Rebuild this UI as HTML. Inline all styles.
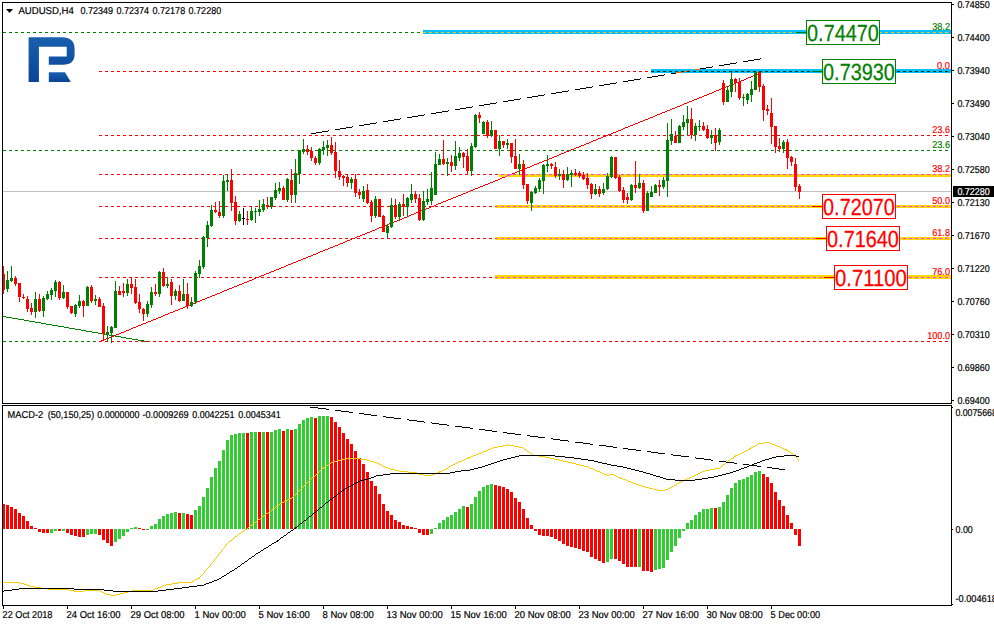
<!DOCTYPE html><html><head><meta charset="utf-8"><title>AUDUSD H4</title><style>html,body{margin:0;padding:0;background:#fff;overflow:hidden}svg{display:block}</style></head><body><svg width="994" height="626" viewBox="0 0 994 626" shape-rendering="crispEdges" font-family="Liberation Sans, sans-serif">
<rect x="0" y="0" width="994" height="626" fill="#FFFFFF"/>
<rect x="3" y="191" width="948" height="1" fill="#C0C0C0"/>
<line x1="99" y1="71.5" x2="949" y2="71.5" stroke="#FF0000" stroke-width="1" stroke-dasharray="3 3" stroke-dashoffset="0"/>
<line x1="99" y1="135.5" x2="949" y2="135.5" stroke="#FF0000" stroke-width="1" stroke-dasharray="3 3" stroke-dashoffset="0"/>
<line x1="99" y1="174.5" x2="949" y2="174.5" stroke="#FF0000" stroke-width="1" stroke-dasharray="3 3" stroke-dashoffset="0"/>
<line x1="99" y1="206.5" x2="949" y2="206.5" stroke="#FF0000" stroke-width="1" stroke-dasharray="3 3" stroke-dashoffset="0"/>
<line x1="99" y1="238.5" x2="949" y2="238.5" stroke="#FF0000" stroke-width="1" stroke-dasharray="3 3" stroke-dashoffset="0"/>
<line x1="99" y1="277.5" x2="949" y2="277.5" stroke="#FF0000" stroke-width="1" stroke-dasharray="3 3" stroke-dashoffset="0"/>
<line x1="99" y1="341.5" x2="949" y2="341.5" stroke="#FF0000" stroke-width="1" stroke-dasharray="3 3" stroke-dashoffset="0"/>
<line x1="3" y1="32.5" x2="949" y2="32.5" stroke="#008000" stroke-width="1" stroke-dasharray="3 3" stroke-dashoffset="0"/>
<line x1="3" y1="150.5" x2="949" y2="150.5" stroke="#008000" stroke-width="1" stroke-dasharray="3 3" stroke-dashoffset="0"/>
<line x1="3" y1="341.5" x2="99" y2="341.5" stroke="#008000" stroke-width="1" stroke-dasharray="3 3" stroke-dashoffset="0"/>
<rect x="499" y="174" width="452" height="3" fill="#FFD700"/>
<line x1="499" y1="174.5" x2="950" y2="174.5" stroke="#FF40FF" stroke-width="1" stroke-dasharray="3 3" stroke-dashoffset="4"/>
<rect x="495" y="205" width="456" height="3" fill="#FFD700"/>
<line x1="495" y1="206.5" x2="950" y2="206.5" stroke="#FF40FF" stroke-width="1" stroke-dasharray="3 3" stroke-dashoffset="0"/>
<rect x="495" y="237" width="456" height="3" fill="#FFD700"/>
<line x1="495" y1="238.5" x2="950" y2="238.5" stroke="#FF40FF" stroke-width="1" stroke-dasharray="3 3" stroke-dashoffset="0"/>
<rect x="495" y="275" width="456" height="4" fill="#FFD700"/>
<line x1="495" y1="277.5" x2="950" y2="277.5" stroke="#FF40FF" stroke-width="1" stroke-dasharray="3 3" stroke-dashoffset="0"/>
<rect x="423" y="30" width="528" height="4" fill="#00BFFF"/>
<line x1="423" y1="32.5" x2="950" y2="32.5" stroke="#FFC020" stroke-width="1" stroke-dasharray="3 3" stroke-dashoffset="0"/>
<rect x="651" y="69" width="300" height="4" fill="#00BFFF"/>
<line x1="651" y1="71.5" x2="950" y2="71.5" stroke="#0A3A0A" stroke-width="1" stroke-dasharray="3 3" stroke-dashoffset="0"/>
<path fill="#008000" d="M2 316h4v1h-4zM6 317h6v1h-6zM12 318h6v1h-6zM18 319h6v1h-6zM24 320h5v1h-5zM29 321h6v1h-6zM35 322h6v1h-6zM41 323h5v1h-5zM46 324h6v1h-6zM52 325h6v1h-6zM58 326h6v1h-6zM64 327h5v1h-5zM69 328h6v1h-6zM75 329h6v1h-6zM81 330h5v1h-5zM86 331h6v1h-6zM92 332h6v1h-6zM98 333h6v1h-6zM104 334h5v1h-5zM109 335h6v1h-6zM115 336h6v1h-6zM121 337h5v1h-5zM126 338h6v1h-6zM132 339h6v1h-6zM138 340h6v1h-6zM144 341h3v1h-3z"/>
<path fill="#FF0000" d="M756 74h2v1h-2zM753 75h3v1h-3zM751 76h2v1h-2zM748 77h3v1h-3zM746 78h2v1h-2zM744 79h2v1h-2zM741 80h3v1h-3zM739 81h2v1h-2zM736 82h3v1h-3zM734 83h2v1h-2zM731 84h3v1h-3zM729 85h2v1h-2zM726 86h3v1h-3zM724 87h2v1h-2zM721 88h3v1h-3zM719 89h2v1h-2zM716 90h3v1h-3zM714 91h2v1h-2zM712 92h2v1h-2zM709 93h3v1h-3zM707 94h2v1h-2zM704 95h3v1h-3zM702 96h2v1h-2zM699 97h3v1h-3zM697 98h2v1h-2zM694 99h3v1h-3zM692 100h2v1h-2zM689 101h3v1h-3zM687 102h2v1h-2zM684 103h3v1h-3zM682 104h2v1h-2zM680 105h2v1h-2zM677 106h3v1h-3zM675 107h2v1h-2zM672 108h3v1h-3zM670 109h2v1h-2zM667 110h3v1h-3zM665 111h2v1h-2zM662 112h3v1h-3zM660 113h2v1h-2zM657 114h3v1h-3zM655 115h2v1h-2zM653 116h2v1h-2zM650 117h3v1h-3zM648 118h2v1h-2zM645 119h3v1h-3zM643 120h2v1h-2zM640 121h3v1h-3zM638 122h2v1h-2zM635 123h3v1h-3zM633 124h2v1h-2zM630 125h3v1h-3zM628 126h2v1h-2zM625 127h3v1h-3zM623 128h2v1h-2zM621 129h2v1h-2zM618 130h3v1h-3zM616 131h2v1h-2zM613 132h3v1h-3zM611 133h2v1h-2zM608 134h3v1h-3zM606 135h2v1h-2zM603 136h3v1h-3zM601 137h2v1h-2zM598 138h3v1h-3zM596 139h2v1h-2zM593 140h3v1h-3zM591 141h2v1h-2zM589 142h2v1h-2zM586 143h3v1h-3zM584 144h2v1h-2zM581 145h3v1h-3zM579 146h2v1h-2zM576 147h3v1h-3zM574 148h2v1h-2zM571 149h3v1h-3zM569 150h2v1h-2zM566 151h3v1h-3zM564 152h2v1h-2zM561 153h3v1h-3zM559 154h2v1h-2zM557 155h2v1h-2zM554 156h3v1h-3zM552 157h2v1h-2zM549 158h3v1h-3zM547 159h2v1h-2zM544 160h3v1h-3zM542 161h2v1h-2zM539 162h3v1h-3zM537 163h2v1h-2zM534 164h3v1h-3zM532 165h2v1h-2zM530 166h2v1h-2zM527 167h3v1h-3zM525 168h2v1h-2zM522 169h3v1h-3zM520 170h2v1h-2zM517 171h3v1h-3zM515 172h2v1h-2zM512 173h3v1h-3zM502 177h3v1h-3zM500 178h2v1h-2zM498 179h2v1h-2zM495 180h3v1h-3zM493 181h2v1h-2zM490 182h3v1h-3zM488 183h2v1h-2zM485 184h3v1h-3zM483 185h2v1h-2zM480 186h3v1h-3zM478 187h2v1h-2zM475 188h3v1h-3zM473 189h2v1h-2zM470 190h3v1h-3zM468 191h2v1h-2zM466 192h2v1h-2zM463 193h3v1h-3zM461 194h2v1h-2zM458 195h3v1h-3zM456 196h2v1h-2zM453 197h3v1h-3zM451 198h2v1h-2zM448 199h3v1h-3zM446 200h2v1h-2zM443 201h3v1h-3zM441 202h2v1h-2zM438 203h3v1h-3zM436 204h2v1h-2zM434 205h2v1h-2zM431 206h3v1h-3zM429 207h2v1h-2zM426 208h3v1h-3zM424 209h2v1h-2zM421 210h3v1h-3zM419 211h2v1h-2zM416 212h3v1h-3zM414 213h2v1h-2zM411 214h3v1h-3zM409 215h2v1h-2zM407 216h2v1h-2zM404 217h3v1h-3zM402 218h2v1h-2zM399 219h3v1h-3zM397 220h2v1h-2zM394 221h3v1h-3zM392 222h2v1h-2zM389 223h3v1h-3zM387 224h2v1h-2zM384 225h3v1h-3zM382 226h2v1h-2zM379 227h3v1h-3zM377 228h2v1h-2zM375 229h2v1h-2zM372 230h3v1h-3zM370 231h2v1h-2zM367 232h3v1h-3zM365 233h2v1h-2zM362 234h3v1h-3zM360 235h2v1h-2zM357 236h3v1h-3zM355 237h2v1h-2zM352 238h3v1h-3zM350 239h2v1h-2zM347 240h3v1h-3zM345 241h2v1h-2zM343 242h2v1h-2zM340 243h3v1h-3zM338 244h2v1h-2zM335 245h3v1h-3zM333 246h2v1h-2zM330 247h3v1h-3zM328 248h2v1h-2zM325 249h3v1h-3zM323 250h2v1h-2zM320 251h3v1h-3zM318 252h2v1h-2zM316 253h2v1h-2zM313 254h3v1h-3zM311 255h2v1h-2zM308 256h3v1h-3zM306 257h2v1h-2zM303 258h3v1h-3zM301 259h2v1h-2zM298 260h3v1h-3zM296 261h2v1h-2zM293 262h3v1h-3zM291 263h2v1h-2zM288 264h3v1h-3zM286 265h2v1h-2zM284 266h2v1h-2zM281 267h3v1h-3zM279 268h2v1h-2zM276 269h3v1h-3zM274 270h2v1h-2zM271 271h3v1h-3zM269 272h2v1h-2zM266 273h3v1h-3zM264 274h2v1h-2zM261 275h3v1h-3zM259 276h2v1h-2zM256 277h3v1h-3zM254 278h2v1h-2zM252 279h2v1h-2zM249 280h3v1h-3zM247 281h2v1h-2zM244 282h3v1h-3zM242 283h2v1h-2zM239 284h3v1h-3zM237 285h2v1h-2zM234 286h3v1h-3zM232 287h2v1h-2zM229 288h3v1h-3zM227 289h2v1h-2zM224 290h3v1h-3zM222 291h2v1h-2zM220 292h2v1h-2zM217 293h3v1h-3zM215 294h2v1h-2zM212 295h3v1h-3zM210 296h2v1h-2zM207 297h3v1h-3zM205 298h2v1h-2zM202 299h3v1h-3zM200 300h2v1h-2zM197 301h3v1h-3zM195 302h2v1h-2zM193 303h2v1h-2zM190 304h3v1h-3zM188 305h2v1h-2zM185 306h3v1h-3zM183 307h2v1h-2zM180 308h3v1h-3zM178 309h2v1h-2zM175 310h3v1h-3zM173 311h2v1h-2zM170 312h3v1h-3zM168 313h2v1h-2zM165 314h3v1h-3zM163 315h2v1h-2zM161 316h2v1h-2zM158 317h3v1h-3zM156 318h2v1h-2zM153 319h3v1h-3zM151 320h2v1h-2zM148 321h3v1h-3zM146 322h2v1h-2zM143 323h3v1h-3zM141 324h2v1h-2zM138 325h3v1h-3zM136 326h2v1h-2zM133 327h3v1h-3zM131 328h2v1h-2zM129 329h2v1h-2zM126 330h3v1h-3zM124 331h2v1h-2zM121 332h3v1h-3zM119 333h2v1h-2zM116 334h3v1h-3zM114 335h2v1h-2zM111 336h3v1h-3zM109 337h2v1h-2zM106 338h3v1h-3zM104 339h2v1h-2zM101 340h3v1h-3zM100 341h1v1h-1z"/>
<path fill="#FF40FF" d="M510 174h2v1h-2zM507 175h3v1h-3zM505 176h2v1h-2z"/>
<path fill="#000" d="M760 58h1v1h-1zM754 59h6v1h-6zM748 60h6v1h-6zM743 61h5v1h-5zM736 62h1v1h-1zM730 63h6v1h-6zM724 64h6v1h-6zM719 65h5v1h-5zM712 66h1v1h-1zM706 67h6v1h-6zM700 68h6v1h-6zM671 73h5v1h-5zM664 74h1v1h-1zM658 75h6v1h-6zM652 76h6v1h-6zM647 77h5v1h-5zM640 78h1v1h-1zM634 79h6v1h-6zM628 80h6v1h-6zM623 81h5v1h-5zM616 82h1v1h-1zM610 83h6v1h-6zM604 84h6v1h-6zM599 85h5v1h-5zM592 86h1v1h-1zM586 87h6v1h-6zM580 88h6v1h-6zM575 89h5v1h-5zM568 90h1v1h-1zM562 91h6v1h-6zM556 92h6v1h-6zM551 93h5v1h-5zM544 94h1v1h-1zM538 95h6v1h-6zM532 96h6v1h-6zM527 97h5v1h-5zM520 98h1v1h-1zM514 99h6v1h-6zM508 100h6v1h-6zM503 101h5v1h-5zM496 102h1v1h-1zM490 103h6v1h-6zM484 104h6v1h-6zM479 105h5v1h-5zM472 106h1v1h-1zM466 107h6v1h-6zM460 108h6v1h-6zM455 109h5v1h-5zM448 110h1v1h-1zM442 111h6v1h-6zM436 112h6v1h-6zM431 113h5v1h-5zM424 114h1v1h-1zM418 115h6v1h-6zM412 116h6v1h-6zM407 117h5v1h-5zM400 118h1v1h-1zM394 119h6v1h-6zM388 120h6v1h-6zM383 121h5v1h-5zM376 122h1v1h-1zM370 123h6v1h-6zM364 124h6v1h-6zM359 125h5v1h-5zM352 126h1v1h-1zM346 127h6v1h-6zM340 128h6v1h-6zM335 129h5v1h-5zM328 130h1v1h-1zM322 131h6v1h-6zM316 132h6v1h-6zM311 133h5v1h-5z"/>
<path fill="#FF5A00" d="M695 69h5v1h-5zM688 70h1v1h-1zM682 71h6v1h-6zM676 72h6v1h-6z"/>
<line x1="651" y1="71.5" x2="950" y2="71.5" stroke="#0A3A0A" stroke-width="1" stroke-dasharray="3 3" stroke-dashoffset="0"/>
<rect x="3" y="266" width="1" height="28" fill="#FF0000"/>
<rect x="2" y="274" width="3" height="16" fill="#FF0000"/>
<rect x="7" y="271" width="1" height="21" fill="#008000"/>
<rect x="6" y="280" width="3" height="9" fill="#008000"/>
<rect x="11" y="266" width="1" height="16" fill="#008000"/>
<rect x="10" y="278" width="3" height="3" fill="#008000"/>
<rect x="15" y="276" width="1" height="10" fill="#FF0000"/>
<rect x="14" y="278" width="3" height="6" fill="#FF0000"/>
<rect x="19" y="283" width="1" height="19" fill="#FF0000"/>
<rect x="18" y="283" width="3" height="14" fill="#FF0000"/>
<rect x="23" y="294" width="1" height="5" fill="#FF0000"/>
<rect x="22" y="297" width="3" height="1" fill="#FF0000"/>
<rect x="27" y="296" width="1" height="16" fill="#FF0000"/>
<rect x="26" y="299" width="3" height="10" fill="#FF0000"/>
<rect x="31" y="303" width="1" height="12" fill="#FF0000"/>
<rect x="30" y="308" width="3" height="4" fill="#FF0000"/>
<rect x="35" y="292" width="1" height="26" fill="#008000"/>
<rect x="34" y="299" width="3" height="13" fill="#008000"/>
<rect x="39" y="294" width="1" height="18" fill="#FF0000"/>
<rect x="38" y="299" width="3" height="12" fill="#FF0000"/>
<rect x="43" y="296" width="1" height="21" fill="#008000"/>
<rect x="42" y="298" width="3" height="13" fill="#008000"/>
<rect x="47" y="291" width="1" height="9" fill="#008000"/>
<rect x="46" y="294" width="3" height="5" fill="#008000"/>
<rect x="51" y="288" width="1" height="12" fill="#008000"/>
<rect x="50" y="290" width="3" height="5" fill="#008000"/>
<rect x="55" y="280" width="1" height="17" fill="#008000"/>
<rect x="54" y="282" width="3" height="9" fill="#008000"/>
<rect x="59" y="281" width="1" height="19" fill="#FF0000"/>
<rect x="58" y="282" width="3" height="16" fill="#FF0000"/>
<rect x="63" y="285" width="1" height="14" fill="#008000"/>
<rect x="62" y="292" width="3" height="6" fill="#008000"/>
<rect x="67" y="292" width="1" height="17" fill="#FF0000"/>
<rect x="66" y="292" width="3" height="15" fill="#FF0000"/>
<rect x="71" y="306" width="1" height="8" fill="#FF0000"/>
<rect x="70" y="306" width="3" height="7" fill="#FF0000"/>
<rect x="75" y="304" width="1" height="13" fill="#008000"/>
<rect x="74" y="305" width="3" height="9" fill="#008000"/>
<rect x="79" y="295" width="1" height="13" fill="#008000"/>
<rect x="78" y="301" width="3" height="5" fill="#008000"/>
<rect x="83" y="300" width="1" height="17" fill="#FF0000"/>
<rect x="82" y="301" width="3" height="5" fill="#FF0000"/>
<rect x="87" y="286" width="1" height="20" fill="#008000"/>
<rect x="86" y="287" width="3" height="19" fill="#008000"/>
<rect x="91" y="285" width="1" height="18" fill="#FF0000"/>
<rect x="90" y="287" width="3" height="14" fill="#FF0000"/>
<rect x="95" y="295" width="1" height="10" fill="#008000"/>
<rect x="94" y="299" width="3" height="2" fill="#008000"/>
<rect x="99" y="297" width="1" height="10" fill="#FF0000"/>
<rect x="98" y="299" width="3" height="8" fill="#FF0000"/>
<rect x="103" y="303" width="1" height="38" fill="#FF0000"/>
<rect x="102" y="306" width="3" height="28" fill="#FF0000"/>
<rect x="107" y="326" width="1" height="15" fill="#008000"/>
<rect x="106" y="332" width="3" height="3" fill="#008000"/>
<rect x="111" y="326" width="1" height="17" fill="#008000"/>
<rect x="110" y="327" width="3" height="6" fill="#008000"/>
<rect x="115" y="281" width="1" height="47" fill="#008000"/>
<rect x="114" y="291" width="3" height="37" fill="#008000"/>
<rect x="119" y="286" width="1" height="9" fill="#FF0000"/>
<rect x="118" y="291" width="3" height="4" fill="#FF0000"/>
<rect x="123" y="283" width="1" height="14" fill="#FF0000"/>
<rect x="122" y="291" width="3" height="2" fill="#FF0000"/>
<rect x="127" y="279" width="1" height="17" fill="#008000"/>
<rect x="126" y="284" width="3" height="9" fill="#008000"/>
<rect x="131" y="277" width="1" height="17" fill="#FF0000"/>
<rect x="130" y="284" width="3" height="4" fill="#FF0000"/>
<rect x="135" y="279" width="1" height="25" fill="#FF0000"/>
<rect x="134" y="287" width="3" height="16" fill="#FF0000"/>
<rect x="139" y="294" width="1" height="19" fill="#FF0000"/>
<rect x="138" y="302" width="3" height="7" fill="#FF0000"/>
<rect x="143" y="308" width="1" height="13" fill="#FF0000"/>
<rect x="142" y="309" width="3" height="5" fill="#FF0000"/>
<rect x="147" y="301" width="1" height="16" fill="#008000"/>
<rect x="146" y="304" width="3" height="10" fill="#008000"/>
<rect x="151" y="287" width="1" height="21" fill="#008000"/>
<rect x="150" y="292" width="3" height="13" fill="#008000"/>
<rect x="155" y="284" width="1" height="12" fill="#FF0000"/>
<rect x="154" y="292" width="3" height="2" fill="#FF0000"/>
<rect x="159" y="271" width="1" height="26" fill="#008000"/>
<rect x="158" y="272" width="3" height="22" fill="#008000"/>
<rect x="163" y="268" width="1" height="19" fill="#FF0000"/>
<rect x="162" y="272" width="3" height="14" fill="#FF0000"/>
<rect x="167" y="277" width="1" height="11" fill="#008000"/>
<rect x="166" y="284" width="3" height="2" fill="#008000"/>
<rect x="171" y="279" width="1" height="26" fill="#FF0000"/>
<rect x="170" y="282" width="3" height="14" fill="#FF0000"/>
<rect x="175" y="289" width="1" height="11" fill="#008000"/>
<rect x="174" y="291" width="3" height="5" fill="#008000"/>
<rect x="179" y="285" width="1" height="17" fill="#FF0000"/>
<rect x="178" y="291" width="3" height="10" fill="#FF0000"/>
<rect x="183" y="279" width="1" height="22" fill="#008000"/>
<rect x="182" y="294" width="3" height="7" fill="#008000"/>
<rect x="187" y="283" width="1" height="26" fill="#FF0000"/>
<rect x="186" y="294" width="3" height="12" fill="#FF0000"/>
<rect x="191" y="297" width="1" height="10" fill="#008000"/>
<rect x="190" y="302" width="3" height="4" fill="#008000"/>
<rect x="195" y="271" width="1" height="33" fill="#008000"/>
<rect x="194" y="273" width="3" height="29" fill="#008000"/>
<rect x="199" y="260" width="1" height="18" fill="#008000"/>
<rect x="198" y="266" width="3" height="8" fill="#008000"/>
<rect x="203" y="236" width="1" height="33" fill="#008000"/>
<rect x="202" y="237" width="3" height="30" fill="#008000"/>
<rect x="207" y="221" width="1" height="26" fill="#008000"/>
<rect x="206" y="225" width="3" height="13" fill="#008000"/>
<rect x="211" y="205" width="1" height="22" fill="#008000"/>
<rect x="210" y="210" width="3" height="16" fill="#008000"/>
<rect x="215" y="202" width="1" height="11" fill="#FF0000"/>
<rect x="214" y="210" width="3" height="2" fill="#FF0000"/>
<rect x="219" y="201" width="1" height="17" fill="#FF0000"/>
<rect x="218" y="212" width="3" height="4" fill="#FF0000"/>
<rect x="223" y="175" width="1" height="43" fill="#008000"/>
<rect x="222" y="181" width="3" height="35" fill="#008000"/>
<rect x="227" y="174" width="1" height="17" fill="#008000"/>
<rect x="226" y="180" width="3" height="2" fill="#008000"/>
<rect x="231" y="169" width="1" height="42" fill="#FF0000"/>
<rect x="230" y="180" width="3" height="23" fill="#FF0000"/>
<rect x="235" y="196" width="1" height="29" fill="#FF0000"/>
<rect x="234" y="202" width="3" height="19" fill="#FF0000"/>
<rect x="239" y="211" width="1" height="11" fill="#008000"/>
<rect x="238" y="214" width="3" height="7" fill="#008000"/>
<rect x="243" y="208" width="1" height="17" fill="#000000"/>
<rect x="242" y="218" width="3" height="1" fill="#000000"/>
<rect x="247" y="211" width="1" height="14" fill="#FF0000"/>
<rect x="246" y="219" width="3" height="1" fill="#FF0000"/>
<rect x="251" y="207" width="1" height="14" fill="#008000"/>
<rect x="250" y="211" width="3" height="9" fill="#008000"/>
<rect x="255" y="208" width="1" height="15" fill="#008000"/>
<rect x="254" y="211" width="3" height="1" fill="#008000"/>
<rect x="259" y="200" width="1" height="16" fill="#008000"/>
<rect x="258" y="209" width="3" height="3" fill="#008000"/>
<rect x="263" y="199" width="1" height="13" fill="#008000"/>
<rect x="262" y="204" width="3" height="6" fill="#008000"/>
<rect x="267" y="197" width="1" height="12" fill="#FF0000"/>
<rect x="266" y="205" width="3" height="2" fill="#FF0000"/>
<rect x="271" y="197" width="1" height="12" fill="#008000"/>
<rect x="270" y="197" width="3" height="10" fill="#008000"/>
<rect x="275" y="183" width="1" height="17" fill="#008000"/>
<rect x="274" y="190" width="3" height="8" fill="#008000"/>
<rect x="279" y="182" width="1" height="12" fill="#008000"/>
<rect x="278" y="188" width="3" height="3" fill="#008000"/>
<rect x="283" y="186" width="1" height="14" fill="#FF0000"/>
<rect x="282" y="188" width="3" height="12" fill="#FF0000"/>
<rect x="287" y="178" width="1" height="24" fill="#008000"/>
<rect x="286" y="179" width="3" height="21" fill="#008000"/>
<rect x="291" y="169" width="1" height="34" fill="#FF0000"/>
<rect x="290" y="180" width="3" height="15" fill="#FF0000"/>
<rect x="295" y="159" width="1" height="44" fill="#008000"/>
<rect x="294" y="173" width="3" height="22" fill="#008000"/>
<rect x="299" y="150" width="1" height="34" fill="#008000"/>
<rect x="298" y="150" width="3" height="24" fill="#008000"/>
<rect x="303" y="139" width="1" height="15" fill="#008000"/>
<rect x="302" y="149" width="3" height="3" fill="#008000"/>
<rect x="307" y="145" width="1" height="10" fill="#FF0000"/>
<rect x="306" y="149" width="3" height="3" fill="#FF0000"/>
<rect x="311" y="147" width="1" height="14" fill="#FF0000"/>
<rect x="310" y="151" width="3" height="7" fill="#FF0000"/>
<rect x="315" y="156" width="1" height="9" fill="#FF0000"/>
<rect x="314" y="158" width="3" height="5" fill="#FF0000"/>
<rect x="319" y="148" width="1" height="17" fill="#008000"/>
<rect x="318" y="149" width="3" height="14" fill="#008000"/>
<rect x="323" y="141" width="1" height="14" fill="#008000"/>
<rect x="322" y="147" width="3" height="3" fill="#008000"/>
<rect x="327" y="140" width="1" height="16" fill="#008000"/>
<rect x="326" y="145" width="3" height="3" fill="#008000"/>
<rect x="331" y="137" width="1" height="18" fill="#FF0000"/>
<rect x="330" y="145" width="3" height="8" fill="#FF0000"/>
<rect x="335" y="142" width="1" height="36" fill="#FF0000"/>
<rect x="334" y="152" width="3" height="19" fill="#FF0000"/>
<rect x="339" y="160" width="1" height="20" fill="#FF0000"/>
<rect x="338" y="171" width="3" height="6" fill="#FF0000"/>
<rect x="343" y="175" width="1" height="11" fill="#FF0000"/>
<rect x="342" y="176" width="3" height="2" fill="#FF0000"/>
<rect x="347" y="175" width="1" height="12" fill="#FF0000"/>
<rect x="346" y="177" width="3" height="6" fill="#FF0000"/>
<rect x="351" y="177" width="1" height="12" fill="#008000"/>
<rect x="350" y="179" width="3" height="4" fill="#008000"/>
<rect x="355" y="174" width="1" height="23" fill="#FF0000"/>
<rect x="354" y="179" width="3" height="14" fill="#FF0000"/>
<rect x="359" y="189" width="1" height="10" fill="#FF0000"/>
<rect x="358" y="192" width="3" height="3" fill="#FF0000"/>
<rect x="363" y="186" width="1" height="16" fill="#008000"/>
<rect x="362" y="191" width="3" height="8" fill="#008000"/>
<rect x="367" y="184" width="1" height="20" fill="#FF0000"/>
<rect x="366" y="190" width="3" height="13" fill="#FF0000"/>
<rect x="371" y="200" width="1" height="22" fill="#FF0000"/>
<rect x="370" y="202" width="3" height="14" fill="#FF0000"/>
<rect x="375" y="196" width="1" height="22" fill="#008000"/>
<rect x="374" y="199" width="3" height="17" fill="#008000"/>
<rect x="379" y="199" width="1" height="18" fill="#FF0000"/>
<rect x="378" y="199" width="3" height="18" fill="#FF0000"/>
<rect x="383" y="215" width="1" height="17" fill="#FF0000"/>
<rect x="382" y="216" width="3" height="16" fill="#FF0000"/>
<rect x="387" y="224" width="1" height="14" fill="#008000"/>
<rect x="386" y="226" width="3" height="7" fill="#008000"/>
<rect x="391" y="198" width="1" height="30" fill="#008000"/>
<rect x="390" y="205" width="3" height="22" fill="#008000"/>
<rect x="395" y="199" width="1" height="20" fill="#FF0000"/>
<rect x="394" y="205" width="3" height="12" fill="#FF0000"/>
<rect x="399" y="202" width="1" height="19" fill="#008000"/>
<rect x="398" y="204" width="3" height="13" fill="#008000"/>
<rect x="403" y="194" width="1" height="22" fill="#FF0000"/>
<rect x="402" y="204" width="3" height="3" fill="#FF0000"/>
<rect x="407" y="197" width="1" height="20" fill="#008000"/>
<rect x="406" y="198" width="3" height="9" fill="#008000"/>
<rect x="411" y="184" width="1" height="19" fill="#008000"/>
<rect x="410" y="194" width="3" height="6" fill="#008000"/>
<rect x="415" y="191" width="1" height="12" fill="#FF0000"/>
<rect x="414" y="194" width="3" height="5" fill="#FF0000"/>
<rect x="419" y="194" width="1" height="27" fill="#FF0000"/>
<rect x="418" y="198" width="3" height="22" fill="#FF0000"/>
<rect x="423" y="191" width="1" height="30" fill="#008000"/>
<rect x="422" y="201" width="3" height="19" fill="#008000"/>
<rect x="427" y="189" width="1" height="16" fill="#008000"/>
<rect x="426" y="199" width="3" height="3" fill="#008000"/>
<rect x="431" y="172" width="1" height="33" fill="#008000"/>
<rect x="430" y="188" width="3" height="13" fill="#008000"/>
<rect x="435" y="152" width="1" height="43" fill="#008000"/>
<rect x="434" y="164" width="3" height="31" fill="#008000"/>
<rect x="439" y="154" width="1" height="11" fill="#008000"/>
<rect x="438" y="159" width="3" height="6" fill="#008000"/>
<rect x="443" y="140" width="1" height="25" fill="#FF0000"/>
<rect x="442" y="159" width="3" height="5" fill="#FF0000"/>
<rect x="447" y="158" width="1" height="18" fill="#008000"/>
<rect x="446" y="162" width="3" height="2" fill="#008000"/>
<rect x="451" y="155" width="1" height="17" fill="#FF0000"/>
<rect x="450" y="162" width="3" height="4" fill="#FF0000"/>
<rect x="455" y="141" width="1" height="29" fill="#008000"/>
<rect x="454" y="156" width="3" height="10" fill="#008000"/>
<rect x="459" y="147" width="1" height="14" fill="#008000"/>
<rect x="458" y="153" width="3" height="5" fill="#008000"/>
<rect x="463" y="152" width="1" height="16" fill="#FF0000"/>
<rect x="462" y="153" width="3" height="4" fill="#FF0000"/>
<rect x="467" y="149" width="1" height="26" fill="#FF0000"/>
<rect x="466" y="156" width="3" height="15" fill="#FF0000"/>
<rect x="471" y="143" width="1" height="33" fill="#008000"/>
<rect x="470" y="146" width="3" height="25" fill="#008000"/>
<rect x="475" y="114" width="1" height="34" fill="#008000"/>
<rect x="474" y="115" width="3" height="32" fill="#008000"/>
<rect x="479" y="112" width="1" height="11" fill="#FF0000"/>
<rect x="478" y="115" width="3" height="3" fill="#FF0000"/>
<rect x="483" y="121" width="1" height="13" fill="#008000"/>
<rect x="482" y="122" width="3" height="12" fill="#008000"/>
<rect x="487" y="120" width="1" height="18" fill="#FF0000"/>
<rect x="486" y="122" width="3" height="14" fill="#FF0000"/>
<rect x="491" y="121" width="1" height="16" fill="#008000"/>
<rect x="490" y="130" width="3" height="6" fill="#008000"/>
<rect x="495" y="130" width="1" height="19" fill="#FF0000"/>
<rect x="494" y="130" width="3" height="19" fill="#FF0000"/>
<rect x="499" y="135" width="1" height="21" fill="#008000"/>
<rect x="498" y="141" width="3" height="8" fill="#008000"/>
<rect x="503" y="141" width="1" height="7" fill="#FF0000"/>
<rect x="502" y="141" width="3" height="4" fill="#FF0000"/>
<rect x="507" y="139" width="1" height="10" fill="#008000"/>
<rect x="506" y="143" width="3" height="2" fill="#008000"/>
<rect x="511" y="143" width="1" height="20" fill="#FF0000"/>
<rect x="510" y="143" width="3" height="14" fill="#FF0000"/>
<rect x="515" y="139" width="1" height="30" fill="#FF0000"/>
<rect x="514" y="156" width="3" height="13" fill="#FF0000"/>
<rect x="519" y="154" width="1" height="21" fill="#008000"/>
<rect x="518" y="164" width="3" height="5" fill="#008000"/>
<rect x="523" y="160" width="1" height="29" fill="#FF0000"/>
<rect x="522" y="164" width="3" height="21" fill="#FF0000"/>
<rect x="527" y="184" width="1" height="20" fill="#FF0000"/>
<rect x="526" y="184" width="3" height="17" fill="#FF0000"/>
<rect x="531" y="191" width="1" height="20" fill="#008000"/>
<rect x="530" y="192" width="3" height="11" fill="#008000"/>
<rect x="535" y="186" width="1" height="8" fill="#008000"/>
<rect x="534" y="188" width="3" height="5" fill="#008000"/>
<rect x="539" y="178" width="1" height="14" fill="#008000"/>
<rect x="538" y="180" width="3" height="9" fill="#008000"/>
<rect x="543" y="164" width="1" height="30" fill="#008000"/>
<rect x="542" y="165" width="3" height="16" fill="#008000"/>
<rect x="547" y="155" width="1" height="17" fill="#008000"/>
<rect x="546" y="164" width="3" height="2" fill="#008000"/>
<rect x="551" y="163" width="1" height="6" fill="#FF0000"/>
<rect x="550" y="164" width="3" height="2" fill="#FF0000"/>
<rect x="555" y="162" width="1" height="16" fill="#FF0000"/>
<rect x="554" y="167" width="3" height="9" fill="#FF0000"/>
<rect x="559" y="169" width="1" height="11" fill="#008000"/>
<rect x="558" y="174" width="3" height="2" fill="#008000"/>
<rect x="563" y="170" width="1" height="18" fill="#FF0000"/>
<rect x="562" y="174" width="3" height="6" fill="#FF0000"/>
<rect x="567" y="167" width="1" height="14" fill="#008000"/>
<rect x="566" y="174" width="3" height="6" fill="#008000"/>
<rect x="571" y="170" width="1" height="17" fill="#008000"/>
<rect x="570" y="173" width="3" height="2" fill="#008000"/>
<rect x="575" y="169" width="1" height="7" fill="#FF0000"/>
<rect x="574" y="173" width="3" height="2" fill="#FF0000"/>
<rect x="579" y="171" width="1" height="7" fill="#FF0000"/>
<rect x="578" y="173" width="3" height="3" fill="#FF0000"/>
<rect x="583" y="172" width="1" height="8" fill="#FF0000"/>
<rect x="582" y="175" width="3" height="4" fill="#FF0000"/>
<rect x="587" y="173" width="1" height="16" fill="#FF0000"/>
<rect x="586" y="178" width="3" height="7" fill="#FF0000"/>
<rect x="591" y="183" width="1" height="16" fill="#FF0000"/>
<rect x="590" y="184" width="3" height="10" fill="#FF0000"/>
<rect x="595" y="184" width="1" height="11" fill="#008000"/>
<rect x="594" y="189" width="3" height="5" fill="#008000"/>
<rect x="599" y="186" width="1" height="11" fill="#FF0000"/>
<rect x="598" y="189" width="3" height="5" fill="#FF0000"/>
<rect x="603" y="183" width="1" height="12" fill="#008000"/>
<rect x="602" y="189" width="3" height="4" fill="#008000"/>
<rect x="607" y="173" width="1" height="17" fill="#008000"/>
<rect x="606" y="176" width="3" height="13" fill="#008000"/>
<rect x="611" y="156" width="1" height="22" fill="#008000"/>
<rect x="610" y="157" width="3" height="20" fill="#008000"/>
<rect x="615" y="157" width="1" height="22" fill="#FF0000"/>
<rect x="614" y="157" width="3" height="21" fill="#FF0000"/>
<rect x="619" y="175" width="1" height="17" fill="#FF0000"/>
<rect x="618" y="177" width="3" height="14" fill="#FF0000"/>
<rect x="623" y="187" width="1" height="16" fill="#FF0000"/>
<rect x="622" y="190" width="3" height="10" fill="#FF0000"/>
<rect x="627" y="193" width="1" height="11" fill="#FF0000"/>
<rect x="626" y="197" width="3" height="3" fill="#FF0000"/>
<rect x="631" y="184" width="1" height="17" fill="#008000"/>
<rect x="630" y="185" width="3" height="15" fill="#008000"/>
<rect x="635" y="161" width="1" height="32" fill="#FF0000"/>
<rect x="634" y="185" width="3" height="3" fill="#FF0000"/>
<rect x="639" y="174" width="1" height="15" fill="#008000"/>
<rect x="638" y="183" width="3" height="5" fill="#008000"/>
<rect x="643" y="180" width="1" height="33" fill="#FF0000"/>
<rect x="642" y="183" width="3" height="28" fill="#FF0000"/>
<rect x="647" y="191" width="1" height="20" fill="#008000"/>
<rect x="646" y="193" width="3" height="18" fill="#008000"/>
<rect x="651" y="186" width="1" height="11" fill="#008000"/>
<rect x="650" y="192" width="3" height="5" fill="#008000"/>
<rect x="655" y="184" width="1" height="9" fill="#008000"/>
<rect x="654" y="185" width="3" height="8" fill="#008000"/>
<rect x="659" y="180" width="1" height="16" fill="#FF0000"/>
<rect x="658" y="185" width="3" height="2" fill="#FF0000"/>
<rect x="663" y="177" width="1" height="12" fill="#008000"/>
<rect x="662" y="180" width="3" height="7" fill="#008000"/>
<rect x="667" y="123" width="1" height="74" fill="#008000"/>
<rect x="666" y="140" width="3" height="41" fill="#008000"/>
<rect x="671" y="119" width="1" height="26" fill="#008000"/>
<rect x="670" y="134" width="3" height="7" fill="#008000"/>
<rect x="675" y="131" width="1" height="12" fill="#FF0000"/>
<rect x="674" y="136" width="3" height="7" fill="#FF0000"/>
<rect x="679" y="125" width="1" height="18" fill="#008000"/>
<rect x="678" y="126" width="3" height="17" fill="#008000"/>
<rect x="683" y="115" width="1" height="15" fill="#008000"/>
<rect x="682" y="122" width="3" height="5" fill="#008000"/>
<rect x="687" y="106" width="1" height="30" fill="#008000"/>
<rect x="686" y="119" width="3" height="4" fill="#008000"/>
<rect x="691" y="108" width="1" height="31" fill="#FF0000"/>
<rect x="690" y="119" width="3" height="16" fill="#FF0000"/>
<rect x="695" y="123" width="1" height="18" fill="#008000"/>
<rect x="694" y="126" width="3" height="9" fill="#008000"/>
<rect x="699" y="120" width="1" height="11" fill="#008000"/>
<rect x="698" y="126" width="3" height="1" fill="#008000"/>
<rect x="703" y="122" width="1" height="9" fill="#FF0000"/>
<rect x="702" y="126" width="3" height="4" fill="#FF0000"/>
<rect x="707" y="125" width="1" height="14" fill="#FF0000"/>
<rect x="706" y="129" width="3" height="9" fill="#FF0000"/>
<rect x="711" y="130" width="1" height="14" fill="#008000"/>
<rect x="710" y="135" width="3" height="3" fill="#008000"/>
<rect x="715" y="128" width="1" height="23" fill="#FF0000"/>
<rect x="714" y="135" width="3" height="8" fill="#FF0000"/>
<rect x="719" y="128" width="1" height="17" fill="#008000"/>
<rect x="718" y="130" width="3" height="12" fill="#008000"/>
<rect x="723" y="80" width="1" height="25" fill="#FF0000"/>
<rect x="722" y="83" width="3" height="19" fill="#FF0000"/>
<rect x="727" y="86" width="1" height="16" fill="#008000"/>
<rect x="726" y="90" width="3" height="12" fill="#008000"/>
<rect x="731" y="72" width="1" height="25" fill="#008000"/>
<rect x="730" y="79" width="3" height="13" fill="#008000"/>
<rect x="735" y="78" width="1" height="14" fill="#FF0000"/>
<rect x="734" y="79" width="3" height="4" fill="#FF0000"/>
<rect x="739" y="78" width="1" height="22" fill="#FF0000"/>
<rect x="738" y="82" width="3" height="16" fill="#FF0000"/>
<rect x="743" y="94" width="1" height="12" fill="#008000"/>
<rect x="742" y="97" width="3" height="1" fill="#008000"/>
<rect x="747" y="93" width="1" height="11" fill="#008000"/>
<rect x="746" y="94" width="3" height="6" fill="#008000"/>
<rect x="751" y="81" width="1" height="21" fill="#008000"/>
<rect x="750" y="89" width="3" height="6" fill="#008000"/>
<rect x="755" y="72" width="1" height="18" fill="#008000"/>
<rect x="754" y="72" width="3" height="18" fill="#008000"/>
<rect x="759" y="72" width="1" height="20" fill="#FF0000"/>
<rect x="758" y="72" width="3" height="15" fill="#FF0000"/>
<rect x="763" y="84" width="1" height="37" fill="#FF0000"/>
<rect x="762" y="86" width="3" height="24" fill="#FF0000"/>
<rect x="767" y="105" width="1" height="10" fill="#FF0000"/>
<rect x="766" y="109" width="3" height="2" fill="#FF0000"/>
<rect x="771" y="98" width="1" height="46" fill="#FF0000"/>
<rect x="770" y="113" width="3" height="14" fill="#FF0000"/>
<rect x="775" y="126" width="1" height="27" fill="#FF0000"/>
<rect x="774" y="126" width="3" height="21" fill="#FF0000"/>
<rect x="779" y="138" width="1" height="14" fill="#FF0000"/>
<rect x="778" y="146" width="3" height="3" fill="#FF0000"/>
<rect x="783" y="140" width="1" height="13" fill="#008000"/>
<rect x="782" y="142" width="3" height="7" fill="#008000"/>
<rect x="787" y="139" width="1" height="30" fill="#FF0000"/>
<rect x="786" y="142" width="3" height="16" fill="#FF0000"/>
<rect x="791" y="156" width="1" height="10" fill="#FF0000"/>
<rect x="790" y="157" width="3" height="5" fill="#FF0000"/>
<rect x="795" y="158" width="1" height="33" fill="#FF0000"/>
<rect x="794" y="164" width="3" height="23" fill="#FF0000"/>
<rect x="799" y="184" width="1" height="15" fill="#FF0000"/>
<rect x="798" y="186" width="3" height="6" fill="#FF0000"/>
<rect x="796" y="32" width="10" height="1" fill="#008000"/>
<rect x="806.5" y="20.5" width="73" height="24" fill="#fff" stroke="#008000" stroke-width="1"/>
<text x="807.1" y="40.8" font-size="23.4" text-rendering="geometricPrecision" stroke="#008000" stroke-width="0.25" fill="#008000" textLength="71.7" lengthAdjust="spacingAndGlyphs" shape-rendering="auto">0.74470</text>
<rect x="812" y="71" width="10" height="1" fill="#008000"/>
<rect x="822.5" y="59.5" width="73" height="24" fill="#fff" stroke="#008000" stroke-width="1"/>
<text x="823.1" y="79.8" font-size="23.4" text-rendering="geometricPrecision" stroke="#008000" stroke-width="0.25" fill="#008000" textLength="71.7" lengthAdjust="spacingAndGlyphs" shape-rendering="auto">0.73930</text>
<rect x="812" y="206" width="10" height="1" fill="#FF0000"/>
<rect x="822.5" y="194.5" width="73" height="24" fill="#fff" stroke="#FF0000" stroke-width="1"/>
<text x="823.1" y="214.8" font-size="23.4" text-rendering="geometricPrecision" stroke="#FF0000" stroke-width="0.25" fill="#FF0000" textLength="71.7" lengthAdjust="spacingAndGlyphs" shape-rendering="auto">0.72070</text>
<rect x="816" y="238" width="10" height="1" fill="#FF0000"/>
<rect x="826.5" y="226.5" width="73" height="24" fill="#fff" stroke="#FF0000" stroke-width="1"/>
<text x="827.1" y="246.8" font-size="23.4" text-rendering="geometricPrecision" stroke="#FF0000" stroke-width="0.25" fill="#FF0000" textLength="71.7" lengthAdjust="spacingAndGlyphs" shape-rendering="auto">0.71640</text>
<rect x="824" y="277" width="10" height="1" fill="#FF0000"/>
<rect x="834.5" y="265.5" width="73" height="24" fill="#fff" stroke="#FF0000" stroke-width="1"/>
<text x="835.1" y="285.8" font-size="23.4" text-rendering="geometricPrecision" stroke="#FF0000" stroke-width="0.25" fill="#FF0000" textLength="71.7" lengthAdjust="spacingAndGlyphs" shape-rendering="auto">0.71100</text>
<text x="950" y="30" font-size="10" text-rendering="geometricPrecision" fill="#008000" stroke="#008000" stroke-width="0.2" text-anchor="end" textLength="17.8" lengthAdjust="spacingAndGlyphs">38.2</text>
<text x="950" y="69" font-size="10" text-rendering="geometricPrecision" fill="#FF0000" stroke="#FF0000" stroke-width="0.2" text-anchor="end" textLength="12.9" lengthAdjust="spacingAndGlyphs">0.0</text>
<text x="950" y="133" font-size="10" text-rendering="geometricPrecision" fill="#FF0000" stroke="#FF0000" stroke-width="0.2" text-anchor="end" textLength="17.8" lengthAdjust="spacingAndGlyphs">23.6</text>
<text x="950" y="148" font-size="10" text-rendering="geometricPrecision" fill="#008000" stroke="#008000" stroke-width="0.2" text-anchor="end" textLength="17.8" lengthAdjust="spacingAndGlyphs">23.6</text>
<text x="950" y="172" font-size="10" text-rendering="geometricPrecision" fill="#FF0000" stroke="#FF0000" stroke-width="0.2" text-anchor="end" textLength="17.8" lengthAdjust="spacingAndGlyphs">38.2</text>
<text x="950" y="204" font-size="10" text-rendering="geometricPrecision" fill="#FF0000" stroke="#FF0000" stroke-width="0.2" text-anchor="end" textLength="17.8" lengthAdjust="spacingAndGlyphs">50.0</text>
<text x="950" y="236" font-size="10" text-rendering="geometricPrecision" fill="#FF0000" stroke="#FF0000" stroke-width="0.2" text-anchor="end" textLength="17.8" lengthAdjust="spacingAndGlyphs">61.8</text>
<text x="950" y="275" font-size="10" text-rendering="geometricPrecision" fill="#FF0000" stroke="#FF0000" stroke-width="0.2" text-anchor="end" textLength="17.8" lengthAdjust="spacingAndGlyphs">76.0</text>
<text x="950" y="339" font-size="10" text-rendering="geometricPrecision" fill="#FF0000" stroke="#FF0000" stroke-width="0.2" text-anchor="end" textLength="22.8" lengthAdjust="spacingAndGlyphs">100.0</text>
<defs><linearGradient id="lg" x1="0" y1="0" x2="0" y2="1"><stop offset="0" stop-color="#1860AE"/><stop offset="1" stop-color="#0A4396"/></linearGradient></defs>
<g shape-rendering="auto" fill="url(#lg)">
<path d="M28.6 37.2 H62 Q74.6 37.2 74.6 49 V54 Q74.6 64.7 63 64.7 H48.8 V56.4 H66.7 V46.8 H38.9 V82 H28.6 Z"/>
<path d="M48.8 72.2 H65 L70.8 82 H48.8 Z"/>
</g>
<rect x="2" y="504" width="3" height="25" fill="#FF0000"/>
<rect x="6" y="505" width="3" height="24" fill="#FF0000"/>
<rect x="10" y="507" width="3" height="22" fill="#FF0000"/>
<rect x="14" y="509" width="3" height="20" fill="#FF0000"/>
<rect x="18" y="513" width="3" height="16" fill="#FF0000"/>
<rect x="22" y="516" width="3" height="13" fill="#FF0000"/>
<rect x="26" y="521" width="3" height="8" fill="#FF0000"/>
<rect x="30" y="526" width="3" height="3" fill="#FF0000"/>
<rect x="34" y="528" width="3" height="1" fill="#FF0000"/>
<rect x="38" y="529" width="3" height="3" fill="#FF0000"/>
<rect x="42" y="529" width="3" height="4" fill="#FF0000"/>
<rect x="46" y="529" width="3" height="4" fill="#FF0000"/>
<rect x="50" y="529" width="3" height="4" fill="#32CD32"/>
<rect x="54" y="529" width="3" height="2" fill="#32CD32"/>
<rect x="58" y="529" width="3" height="2" fill="#FF0000"/>
<rect x="62" y="529" width="3" height="2" fill="#32CD32"/>
<rect x="66" y="529" width="3" height="4" fill="#FF0000"/>
<rect x="70" y="529" width="3" height="6" fill="#FF0000"/>
<rect x="74" y="529" width="3" height="7" fill="#FF0000"/>
<rect x="78" y="529" width="3" height="8" fill="#FF0000"/>
<rect x="82" y="529" width="3" height="8" fill="#FF0000"/>
<rect x="86" y="529" width="3" height="6" fill="#32CD32"/>
<rect x="90" y="529" width="3" height="5" fill="#32CD32"/>
<rect x="94" y="529" width="3" height="5" fill="#32CD32"/>
<rect x="98" y="529" width="3" height="6" fill="#FF0000"/>
<rect x="102" y="529" width="3" height="11" fill="#FF0000"/>
<rect x="106" y="529" width="3" height="14" fill="#FF0000"/>
<rect x="110" y="529" width="3" height="17" fill="#FF0000"/>
<rect x="114" y="529" width="3" height="13" fill="#32CD32"/>
<rect x="118" y="529" width="3" height="10" fill="#32CD32"/>
<rect x="122" y="529" width="3" height="7" fill="#32CD32"/>
<rect x="126" y="529" width="3" height="3" fill="#32CD32"/>
<rect x="130" y="528" width="3" height="1" fill="#32CD32"/>
<rect x="134" y="527" width="3" height="2" fill="#32CD32"/>
<rect x="138" y="528" width="3" height="1" fill="#FF0000"/>
<rect x="142" y="529" width="3" height="1" fill="#FF0000"/>
<rect x="146" y="529" width="3" height="1" fill="#32CD32"/>
<rect x="150" y="526" width="3" height="3" fill="#32CD32"/>
<rect x="154" y="524" width="3" height="5" fill="#32CD32"/>
<rect x="158" y="519" width="3" height="10" fill="#32CD32"/>
<rect x="162" y="516" width="3" height="13" fill="#32CD32"/>
<rect x="166" y="514" width="3" height="15" fill="#32CD32"/>
<rect x="170" y="513" width="3" height="16" fill="#32CD32"/>
<rect x="174" y="512" width="3" height="17" fill="#32CD32"/>
<rect x="178" y="513" width="3" height="16" fill="#FF0000"/>
<rect x="182" y="513" width="3" height="16" fill="#32CD32"/>
<rect x="186" y="514" width="3" height="15" fill="#FF0000"/>
<rect x="190" y="515" width="3" height="14" fill="#FF0000"/>
<rect x="194" y="510" width="3" height="19" fill="#32CD32"/>
<rect x="198" y="506" width="3" height="23" fill="#32CD32"/>
<rect x="202" y="497" width="3" height="32" fill="#32CD32"/>
<rect x="206" y="488" width="3" height="41" fill="#32CD32"/>
<rect x="210" y="477" width="3" height="52" fill="#32CD32"/>
<rect x="214" y="468" width="3" height="61" fill="#32CD32"/>
<rect x="218" y="461" width="3" height="68" fill="#32CD32"/>
<rect x="222" y="450" width="3" height="79" fill="#32CD32"/>
<rect x="226" y="440" width="3" height="89" fill="#32CD32"/>
<rect x="230" y="435" width="3" height="94" fill="#32CD32"/>
<rect x="234" y="434" width="3" height="95" fill="#32CD32"/>
<rect x="238" y="433" width="3" height="96" fill="#32CD32"/>
<rect x="242" y="433" width="3" height="96" fill="#32CD32"/>
<rect x="246" y="433" width="3" height="96" fill="#FF0000"/>
<rect x="250" y="432" width="3" height="97" fill="#32CD32"/>
<rect x="254" y="432" width="3" height="97" fill="#32CD32"/>
<rect x="258" y="432" width="3" height="97" fill="#FF0000"/>
<rect x="262" y="432" width="3" height="97" fill="#32CD32"/>
<rect x="266" y="432" width="3" height="97" fill="#FF0000"/>
<rect x="270" y="432" width="3" height="97" fill="#32CD32"/>
<rect x="274" y="430" width="3" height="99" fill="#32CD32"/>
<rect x="278" y="429" width="3" height="100" fill="#32CD32"/>
<rect x="282" y="431" width="3" height="98" fill="#FF0000"/>
<rect x="286" y="429" width="3" height="100" fill="#32CD32"/>
<rect x="290" y="430" width="3" height="99" fill="#FF0000"/>
<rect x="294" y="429" width="3" height="100" fill="#32CD32"/>
<rect x="298" y="424" width="3" height="105" fill="#32CD32"/>
<rect x="302" y="420" width="3" height="109" fill="#32CD32"/>
<rect x="306" y="418" width="3" height="111" fill="#32CD32"/>
<rect x="310" y="417" width="3" height="112" fill="#32CD32"/>
<rect x="314" y="418" width="3" height="111" fill="#FF0000"/>
<rect x="318" y="416" width="3" height="113" fill="#32CD32"/>
<rect x="322" y="416" width="3" height="113" fill="#32CD32"/>
<rect x="326" y="416" width="3" height="113" fill="#32CD32"/>
<rect x="330" y="417" width="3" height="112" fill="#FF0000"/>
<rect x="334" y="422" width="3" height="107" fill="#FF0000"/>
<rect x="338" y="427" width="3" height="102" fill="#FF0000"/>
<rect x="342" y="433" width="3" height="96" fill="#FF0000"/>
<rect x="346" y="439" width="3" height="90" fill="#FF0000"/>
<rect x="350" y="444" width="3" height="85" fill="#FF0000"/>
<rect x="354" y="451" width="3" height="78" fill="#FF0000"/>
<rect x="358" y="458" width="3" height="71" fill="#FF0000"/>
<rect x="362" y="464" width="3" height="65" fill="#FF0000"/>
<rect x="366" y="472" width="3" height="57" fill="#FF0000"/>
<rect x="370" y="481" width="3" height="48" fill="#FF0000"/>
<rect x="374" y="486" width="3" height="43" fill="#FF0000"/>
<rect x="378" y="494" width="3" height="35" fill="#FF0000"/>
<rect x="382" y="504" width="3" height="25" fill="#FF0000"/>
<rect x="386" y="511" width="3" height="18" fill="#FF0000"/>
<rect x="390" y="515" width="3" height="14" fill="#FF0000"/>
<rect x="394" y="520" width="3" height="9" fill="#FF0000"/>
<rect x="398" y="522" width="3" height="7" fill="#FF0000"/>
<rect x="402" y="525" width="3" height="4" fill="#FF0000"/>
<rect x="406" y="526" width="3" height="3" fill="#FF0000"/>
<rect x="410" y="527" width="3" height="2" fill="#FF0000"/>
<rect x="414" y="528" width="3" height="1" fill="#FF0000"/>
<rect x="418" y="529" width="3" height="4" fill="#FF0000"/>
<rect x="422" y="529" width="3" height="6" fill="#FF0000"/>
<rect x="426" y="529" width="3" height="6" fill="#FF0000"/>
<rect x="430" y="529" width="3" height="5" fill="#32CD32"/>
<rect x="434" y="528" width="3" height="1" fill="#32CD32"/>
<rect x="438" y="523" width="3" height="6" fill="#32CD32"/>
<rect x="442" y="520" width="3" height="9" fill="#32CD32"/>
<rect x="446" y="517" width="3" height="12" fill="#32CD32"/>
<rect x="450" y="515" width="3" height="14" fill="#32CD32"/>
<rect x="454" y="512" width="3" height="17" fill="#32CD32"/>
<rect x="458" y="509" width="3" height="20" fill="#32CD32"/>
<rect x="462" y="506" width="3" height="23" fill="#32CD32"/>
<rect x="466" y="507" width="3" height="22" fill="#FF0000"/>
<rect x="470" y="504" width="3" height="25" fill="#32CD32"/>
<rect x="474" y="497" width="3" height="32" fill="#32CD32"/>
<rect x="478" y="491" width="3" height="38" fill="#32CD32"/>
<rect x="482" y="487" width="3" height="42" fill="#32CD32"/>
<rect x="486" y="485" width="3" height="44" fill="#32CD32"/>
<rect x="490" y="484" width="3" height="45" fill="#32CD32"/>
<rect x="494" y="485" width="3" height="44" fill="#FF0000"/>
<rect x="498" y="486" width="3" height="43" fill="#FF0000"/>
<rect x="502" y="487" width="3" height="42" fill="#FF0000"/>
<rect x="506" y="489" width="3" height="40" fill="#FF0000"/>
<rect x="510" y="492" width="3" height="37" fill="#FF0000"/>
<rect x="514" y="498" width="3" height="31" fill="#FF0000"/>
<rect x="518" y="502" width="3" height="27" fill="#FF0000"/>
<rect x="522" y="509" width="3" height="20" fill="#FF0000"/>
<rect x="526" y="518" width="3" height="11" fill="#FF0000"/>
<rect x="530" y="525" width="3" height="4" fill="#FF0000"/>
<rect x="534" y="529" width="3" height="2" fill="#FF0000"/>
<rect x="538" y="529" width="3" height="6" fill="#FF0000"/>
<rect x="542" y="529" width="3" height="7" fill="#FF0000"/>
<rect x="546" y="529" width="3" height="7" fill="#FF0000"/>
<rect x="550" y="529" width="3" height="8" fill="#FF0000"/>
<rect x="554" y="529" width="3" height="10" fill="#FF0000"/>
<rect x="558" y="529" width="3" height="12" fill="#FF0000"/>
<rect x="562" y="529" width="3" height="15" fill="#FF0000"/>
<rect x="566" y="529" width="3" height="17" fill="#FF0000"/>
<rect x="570" y="529" width="3" height="18" fill="#FF0000"/>
<rect x="574" y="529" width="3" height="19" fill="#FF0000"/>
<rect x="578" y="529" width="3" height="20" fill="#FF0000"/>
<rect x="582" y="529" width="3" height="22" fill="#FF0000"/>
<rect x="586" y="529" width="3" height="23" fill="#FF0000"/>
<rect x="590" y="529" width="3" height="28" fill="#FF0000"/>
<rect x="594" y="529" width="3" height="30" fill="#FF0000"/>
<rect x="598" y="529" width="3" height="32" fill="#FF0000"/>
<rect x="602" y="529" width="3" height="34" fill="#FF0000"/>
<rect x="606" y="529" width="3" height="33" fill="#32CD32"/>
<rect x="610" y="529" width="3" height="30" fill="#32CD32"/>
<rect x="614" y="529" width="3" height="30" fill="#FF0000"/>
<rect x="618" y="529" width="3" height="32" fill="#FF0000"/>
<rect x="622" y="529" width="3" height="35" fill="#FF0000"/>
<rect x="626" y="529" width="3" height="38" fill="#FF0000"/>
<rect x="630" y="529" width="3" height="38" fill="#FF0000"/>
<rect x="634" y="529" width="3" height="38" fill="#FF0000"/>
<rect x="638" y="529" width="3" height="38" fill="#32CD32"/>
<rect x="642" y="529" width="3" height="42" fill="#FF0000"/>
<rect x="646" y="529" width="3" height="42" fill="#FF0000"/>
<rect x="650" y="529" width="3" height="43" fill="#FF0000"/>
<rect x="654" y="529" width="3" height="41" fill="#32CD32"/>
<rect x="658" y="529" width="3" height="40" fill="#32CD32"/>
<rect x="662" y="529" width="3" height="39" fill="#32CD32"/>
<rect x="666" y="529" width="3" height="31" fill="#32CD32"/>
<rect x="670" y="529" width="3" height="23" fill="#32CD32"/>
<rect x="674" y="529" width="3" height="17" fill="#32CD32"/>
<rect x="678" y="529" width="3" height="9" fill="#32CD32"/>
<rect x="682" y="529" width="3" height="2" fill="#32CD32"/>
<rect x="686" y="523" width="3" height="6" fill="#32CD32"/>
<rect x="690" y="520" width="3" height="9" fill="#32CD32"/>
<rect x="694" y="515" width="3" height="14" fill="#32CD32"/>
<rect x="698" y="512" width="3" height="17" fill="#32CD32"/>
<rect x="702" y="509" width="3" height="20" fill="#32CD32"/>
<rect x="706" y="509" width="3" height="20" fill="#32CD32"/>
<rect x="710" y="508" width="3" height="21" fill="#32CD32"/>
<rect x="714" y="508" width="3" height="21" fill="#FF0000"/>
<rect x="718" y="507" width="3" height="22" fill="#32CD32"/>
<rect x="722" y="502" width="3" height="27" fill="#32CD32"/>
<rect x="726" y="495" width="3" height="34" fill="#32CD32"/>
<rect x="730" y="488" width="3" height="41" fill="#32CD32"/>
<rect x="734" y="483" width="3" height="46" fill="#32CD32"/>
<rect x="738" y="480" width="3" height="49" fill="#32CD32"/>
<rect x="742" y="479" width="3" height="50" fill="#32CD32"/>
<rect x="746" y="477" width="3" height="52" fill="#32CD32"/>
<rect x="750" y="475" width="3" height="54" fill="#32CD32"/>
<rect x="754" y="472" width="3" height="57" fill="#32CD32"/>
<rect x="758" y="471" width="3" height="58" fill="#32CD32"/>
<rect x="762" y="474" width="3" height="55" fill="#FF0000"/>
<rect x="766" y="477" width="3" height="52" fill="#FF0000"/>
<rect x="770" y="483" width="3" height="46" fill="#FF0000"/>
<rect x="774" y="492" width="3" height="37" fill="#FF0000"/>
<rect x="778" y="500" width="3" height="29" fill="#FF0000"/>
<rect x="782" y="506" width="3" height="23" fill="#FF0000"/>
<rect x="786" y="515" width="3" height="14" fill="#FF0000"/>
<rect x="790" y="523" width="3" height="6" fill="#FF0000"/>
<rect x="794" y="529" width="3" height="6" fill="#FF0000"/>
<rect x="798" y="529" width="3" height="17" fill="#FF0000"/>
<path fill="#FFCC00" d="M764 442h6v1h-6zM758 443h6v1h-6zM770 443h2v1h-2zM508 444h1v1h-1zM757 444h1v1h-1zM772 444h3v1h-3zM503 445h5v1h-5zM509 445h5v1h-5zM755 445h2v1h-2zM775 445h2v1h-2zM498 446h5v1h-5zM514 446h5v1h-5zM753 446h2v1h-2zM777 446h3v1h-3zM493 447h5v1h-5zM519 447h4v1h-4zM751 447h2v1h-2zM780 447h2v1h-2zM491 448h2v1h-2zM523 448h1v1h-1zM749 448h2v1h-2zM782 448h2v1h-2zM488 449h3v1h-3zM524 449h2v1h-2zM748 449h2v1h-2zM784 449h3v1h-3zM486 450h2v1h-2zM526 450h1v1h-1zM746 450h2v1h-2zM786 450h2v1h-2zM483 451h3v1h-3zM527 451h2v1h-2zM744 451h2v1h-2zM788 451h2v1h-2zM481 452h2v1h-2zM529 452h1v1h-1zM742 452h2v1h-2zM790 452h1v1h-1zM478 453h3v1h-3zM530 453h2v1h-2zM740 453h2v1h-2zM791 453h2v1h-2zM476 454h2v1h-2zM532 454h1v1h-1zM738 454h2v1h-2zM793 454h1v1h-1zM473 455h3v1h-3zM533 455h6v1h-6zM735 455h3v1h-3zM794 455h1v1h-1zM471 456h2v1h-2zM539 456h6v1h-6zM734 456h2v1h-2zM795 456h1v1h-1zM468 457h3v1h-3zM545 457h5v1h-5zM733 457h1v1h-1zM796 457h1v1h-1zM346 458h14v1h-14zM466 458h3v1h-3zM550 458h4v1h-4zM731 458h2v1h-2zM797 458h1v1h-1zM341 459h5v1h-5zM360 459h7v1h-7zM464 459h2v1h-2zM554 459h5v1h-5zM730 459h1v1h-1zM798 459h1v1h-1zM337 460h4v1h-4zM367 460h3v1h-3zM462 460h2v1h-2zM559 460h4v1h-4zM728 460h2v1h-2zM798 460h1v1h-1zM333 461h4v1h-4zM370 461h4v1h-4zM459 461h3v1h-3zM563 461h5v1h-5zM727 461h1v1h-1zM331 462h2v1h-2zM374 462h3v1h-3zM457 462h2v1h-2zM568 462h4v1h-4zM726 462h1v1h-1zM329 463h2v1h-2zM377 463h2v1h-2zM455 463h2v1h-2zM572 463h4v1h-4zM725 463h1v1h-1zM328 464h1v1h-1zM379 464h2v1h-2zM453 464h2v1h-2zM576 464h4v1h-4zM723 464h2v1h-2zM326 465h2v1h-2zM381 465h2v1h-2zM451 465h2v1h-2zM580 465h4v1h-4zM722 465h1v1h-1zM325 466h1v1h-1zM383 466h2v1h-2zM449 466h2v1h-2zM584 466h4v1h-4zM721 466h1v1h-1zM323 467h2v1h-2zM385 467h3v1h-3zM448 467h1v1h-1zM588 467h2v1h-2zM720 467h1v1h-1zM322 468h2v1h-2zM388 468h2v1h-2zM446 468h2v1h-2zM590 468h3v1h-3zM715 468h5v1h-5zM321 469h1v1h-1zM390 469h5v1h-5zM444 469h2v1h-2zM593 469h2v1h-2zM710 469h5v1h-5zM320 470h1v1h-1zM395 470h4v1h-4zM442 470h2v1h-2zM595 470h2v1h-2zM705 470h5v1h-5zM319 471h1v1h-1zM399 471h9v1h-9zM439 471h3v1h-3zM597 471h3v1h-3zM702 471h3v1h-3zM318 472h1v1h-1zM408 472h9v1h-9zM437 472h3v1h-3zM600 472h2v1h-2zM700 472h2v1h-2zM317 473h1v1h-1zM417 473h2v1h-2zM435 473h2v1h-2zM602 473h2v1h-2zM698 473h2v1h-2zM316 474h1v1h-1zM419 474h5v1h-5zM432 474h3v1h-3zM604 474h3v1h-3zM609 474h5v1h-5zM696 474h2v1h-2zM315 475h1v1h-1zM424 475h8v1h-8zM607 475h2v1h-2zM614 475h2v1h-2zM694 475h2v1h-2zM314 476h1v1h-1zM616 476h2v1h-2zM692 476h2v1h-2zM312 477h2v1h-2zM618 477h3v1h-3zM690 477h2v1h-2zM311 478h1v1h-1zM620 478h3v1h-3zM687 478h3v1h-3zM310 479h1v1h-1zM623 479h3v1h-3zM685 479h2v1h-2zM309 480h1v1h-1zM626 480h2v1h-2zM683 480h2v1h-2zM308 481h1v1h-1zM628 481h3v1h-3zM681 481h2v1h-2zM307 482h1v1h-1zM631 482h2v1h-2zM679 482h2v1h-2zM306 483h1v1h-1zM633 483h3v1h-3zM677 483h2v1h-2zM305 484h1v1h-1zM636 484h3v1h-3zM676 484h1v1h-1zM304 485h1v1h-1zM639 485h3v1h-3zM674 485h2v1h-2zM303 486h1v1h-1zM642 486h3v1h-3zM672 486h2v1h-2zM302 487h1v1h-1zM645 487h4v1h-4zM670 487h2v1h-2zM301 488h1v1h-1zM649 488h4v1h-4zM668 488h2v1h-2zM300 489h1v1h-1zM653 489h4v1h-4zM665 489h3v1h-3zM299 490h1v1h-1zM657 490h8v1h-8zM298 491h1v1h-1zM297 492h1v1h-1zM296 493h1v1h-1zM295 494h1v1h-1zM294 495h1v1h-1zM293 496h1v1h-1zM292 497h1v1h-1zM290 498h2v1h-2zM288 499h2v1h-2zM286 500h2v1h-2zM284 501h2v1h-2zM282 502h2v1h-2zM280 503h2v1h-2zM279 504h1v1h-1zM278 505h1v1h-1zM276 506h2v1h-2zM275 507h1v1h-1zM273 508h2v1h-2zM272 509h1v1h-1zM271 510h1v1h-1zM269 511h2v1h-2zM268 512h1v1h-1zM266 513h2v1h-2zM265 514h1v1h-1zM264 515h1v1h-1zM262 516h2v1h-2zM261 517h1v1h-1zM260 518h1v1h-1zM258 519h2v1h-2zM257 520h1v1h-1zM256 521h1v1h-1zM254 522h2v1h-2zM253 523h1v1h-1zM252 524h1v1h-1zM250 525h2v1h-2zM249 526h1v1h-1zM248 527h1v1h-1zM247 528h1v1h-1zM245 529h2v1h-2zM244 530h1v1h-1zM242 531h2v1h-2zM241 532h1v1h-1zM239 533h2v1h-2zM238 534h1v1h-1zM237 535h1v1h-1zM235 536h2v1h-2zM234 537h1v1h-1zM233 538h1v1h-1zM232 539h1v1h-1zM230 540h2v1h-2zM229 541h1v1h-1zM228 542h1v1h-1zM227 543h1v1h-1zM226 544h1v1h-1zM225 545h1v1h-1zM225 546h1v1h-1zM224 547h1v1h-1zM223 548h1v1h-1zM222 549h1v1h-1zM221 550h1v1h-1zM221 551h1v1h-1zM220 552h1v1h-1zM219 553h1v1h-1zM218 554h1v1h-1zM218 555h1v1h-1zM217 556h1v1h-1zM216 557h1v1h-1zM215 558h1v1h-1zM214 559h1v1h-1zM214 560h1v1h-1zM213 561h1v1h-1zM212 562h1v1h-1zM211 563h1v1h-1zM210 564h1v1h-1zM210 565h1v1h-1zM209 566h1v1h-1zM208 567h1v1h-1zM207 568h1v1h-1zM206 569h1v1h-1zM205 570h1v1h-1zM204 571h1v1h-1zM204 572h1v1h-1zM203 573h1v1h-1zM202 574h1v1h-1zM201 575h1v1h-1zM200 576h1v1h-1zM199 577h1v1h-1zM197 578h3v1h-3zM195 579h2v1h-2zM194 580h1v1h-1zM192 581h2v1h-2zM2 582h18v1h-18zM178 582h14v1h-14zM20 583h4v1h-4zM172 583h6v1h-6zM24 584h3v1h-3zM166 584h6v1h-6zM27 585h3v1h-3zM163 585h3v1h-3zM30 586h4v1h-4zM161 586h2v1h-2zM34 587h7v1h-7zM158 587h3v1h-3zM41 588h7v1h-7zM155 588h3v1h-3zM48 589h21v1h-21zM153 589h2v1h-2zM69 590h5v1h-5zM84 590h16v1h-16zM132 590h21v1h-21zM74 591h10v1h-10zM100 591h2v1h-2zM128 591h4v1h-4zM102 592h2v1h-2zM124 592h4v1h-4zM104 593h2v1h-2zM120 593h4v1h-4zM106 594h5v1h-5zM116 594h4v1h-4zM111 595h5v1h-5z"/>
<path fill="#000" d="M519 455h36v1h-36zM784 455h12v1h-12zM515 456h4v1h-4zM555 456h10v1h-10zM776 456h8v1h-8zM796 456h3v1h-3zM511 457h4v1h-4zM565 457h9v1h-9zM772 457h4v1h-4zM507 458h4v1h-4zM574 458h7v1h-7zM769 458h3v1h-3zM503 459h4v1h-4zM581 459h7v1h-7zM765 459h4v1h-4zM500 460h3v1h-3zM588 460h6v1h-6zM762 460h3v1h-3zM497 461h3v1h-3zM594 461h4v1h-4zM760 461h2v1h-2zM494 462h3v1h-3zM598 462h4v1h-4zM757 462h3v1h-3zM491 463h3v1h-3zM602 463h5v1h-5zM754 463h3v1h-3zM488 464h3v1h-3zM607 464h4v1h-4zM752 464h2v1h-2zM485 465h3v1h-3zM611 465h6v1h-6zM749 465h3v1h-3zM482 466h3v1h-3zM617 466h6v1h-6zM747 466h2v1h-2zM478 467h4v1h-4zM623 467h4v1h-4zM744 467h3v1h-3zM474 468h4v1h-4zM627 468h4v1h-4zM741 468h3v1h-3zM470 469h4v1h-4zM631 469h4v1h-4zM739 469h2v1h-2zM461 470h9v1h-9zM635 470h4v1h-4zM736 470h3v1h-3zM455 471h6v1h-6zM639 471h4v1h-4zM733 471h3v1h-3zM450 472h5v1h-5zM643 472h3v1h-3zM730 472h3v1h-3zM390 473h60v1h-60zM646 473h4v1h-4zM726 473h4v1h-4zM383 474h7v1h-7zM650 474h3v1h-3zM722 474h4v1h-4zM376 475h7v1h-7zM653 475h3v1h-3zM718 475h4v1h-4zM374 476h2v1h-2zM656 476h4v1h-4zM714 476h4v1h-4zM371 477h3v1h-3zM660 477h3v1h-3zM708 477h6v1h-6zM368 478h3v1h-3zM663 478h3v1h-3zM702 478h6v1h-6zM364 479h4v1h-4zM666 479h9v1h-9zM695 479h7v1h-7zM360 480h4v1h-4zM675 480h20v1h-20zM358 481h2v1h-2zM356 482h2v1h-2zM354 483h2v1h-2zM353 484h1v1h-1zM351 485h2v1h-2zM349 486h2v1h-2zM347 487h2v1h-2zM345 488h2v1h-2zM343 489h2v1h-2zM342 490h2v1h-2zM341 491h1v1h-1zM340 492h1v1h-1zM338 493h2v1h-2zM337 494h1v1h-1zM336 495h1v1h-1zM334 496h2v1h-2zM333 497h1v1h-1zM332 498h1v1h-1zM330 499h2v1h-2zM329 500h1v1h-1zM328 501h1v1h-1zM326 502h2v1h-2zM325 503h1v1h-1zM324 504h1v1h-1zM323 505h1v1h-1zM322 506h1v1h-1zM320 507h2v1h-2zM319 508h1v1h-1zM318 509h1v1h-1zM317 510h1v1h-1zM316 511h1v1h-1zM314 512h2v1h-2zM313 513h1v1h-1zM312 514h1v1h-1zM311 515h1v1h-1zM309 516h2v1h-2zM308 517h1v1h-1zM307 518h1v1h-1zM306 519h1v1h-1zM304 520h2v1h-2zM303 521h1v1h-1zM302 522h1v1h-1zM300 523h2v1h-2zM299 524h1v1h-1zM298 525h1v1h-1zM297 526h1v1h-1zM295 527h2v1h-2zM294 528h2v1h-2zM293 529h1v1h-1zM291 530h2v1h-2zM290 531h1v1h-1zM288 532h2v1h-2zM287 533h1v1h-1zM286 534h1v1h-1zM284 535h2v1h-2zM283 536h1v1h-1zM281 537h2v1h-2zM280 538h1v1h-1zM279 539h1v1h-1zM277 540h2v1h-2zM276 541h2v1h-2zM274 542h2v1h-2zM272 543h2v1h-2zM271 544h1v1h-1zM269 545h2v1h-2zM268 546h1v1h-1zM266 547h2v1h-2zM264 548h2v1h-2zM263 549h1v1h-1zM261 550h2v1h-2zM260 551h1v1h-1zM258 552h2v1h-2zM256 553h2v1h-2zM255 554h1v1h-1zM254 555h1v1h-1zM252 556h2v1h-2zM251 557h1v1h-1zM249 558h2v1h-2zM248 559h1v1h-1zM247 560h1v1h-1zM245 561h2v1h-2zM244 562h1v1h-1zM242 563h2v1h-2zM241 564h1v1h-1zM240 565h1v1h-1zM238 566h2v1h-2zM237 567h1v1h-1zM235 568h2v1h-2zM234 569h1v1h-1zM232 570h2v1h-2zM230 571h2v1h-2zM229 572h1v1h-1zM227 573h2v1h-2zM226 574h1v1h-1zM224 575h2v1h-2zM222 576h2v1h-2zM221 577h1v1h-1zM219 578h2v1h-2zM217 579h2v1h-2zM214 580h3v1h-3zM212 581h2v1h-2zM209 582h3v1h-3zM206 583h3v1h-3zM204 584h2v1h-2zM197 585h7v1h-7zM189 586h8v1h-8zM182 587h7v1h-7zM19 588h55v1h-55zM174 588h8v1h-8zM12 589h7v1h-7zM74 589h30v1h-30zM166 589h8v1h-8zM4 590h8v1h-8zM104 590h9v1h-9zM158 590h8v1h-8zM2 591h2v1h-2zM113 591h45v1h-45z"/>
<path fill="#000" d="M310 407h8v1h-8zM318 408h8v1h-8zM326 409h3v1h-3zM335 410h6v1h-6zM341 411h8v1h-8zM349 412h4v1h-4zM359 413h5v1h-5zM364 414h7v1h-7zM371 415h6v1h-6zM383 416h3v1h-3zM386 417h8v1h-8zM394 418h7v1h-7zM407 419h2v1h-2zM409 420h8v1h-8zM417 421h7v1h-7zM424 422h1v1h-1zM431 422h1v1h-1zM432 423h7v1h-7zM439 424h8v1h-8zM447 425h2v1h-2zM455 426h7v1h-7zM462 427h8v1h-8zM470 428h3v1h-3zM479 429h6v1h-6zM485 430h7v1h-7zM492 431h5v1h-5zM503 432h4v1h-4zM507 433h8v1h-8zM515 434h6v1h-6zM527 435h3v1h-3zM530 436h8v1h-8zM538 437h7v1h-7zM551 438h2v1h-2zM553 439h7v1h-7zM560 440h8v1h-8zM568 441h1v1h-1zM575 442h8v1h-8zM583 443h7v1h-7zM590 444h3v1h-3zM599 445h7v1h-7zM606 446h7v1h-7zM613 447h4v1h-4zM623 448h5v1h-5zM628 449h8v1h-8zM636 450h5v1h-5zM647 451h4v1h-4zM651 452h7v1h-7zM658 453h7v1h-7zM671 454h2v1h-2zM673 455h8v1h-8zM681 456h8v1h-8zM695 457h1v1h-1zM696 458h8v1h-8zM704 459h7v1h-7zM711 460h2v1h-2zM719 461h7v1h-7zM726 462h8v1h-8zM734 463h3v1h-3zM743 464h6v1h-6zM749 465h8v1h-8zM757 466h4v1h-4zM767 467h5v1h-5zM772 468h7v1h-7zM779 469h6v1h-6z"/>
<rect x="2" y="2" width="950" height="1" fill="#000"/>
<rect x="2" y="2" width="1" height="402" fill="#000"/>
<rect x="2" y="403" width="950" height="1" fill="#000"/>
<rect x="951" y="2" width="1" height="402" fill="#000"/>
<rect x="2" y="405" width="950" height="1" fill="#000"/>
<rect x="2" y="405" width="1" height="201" fill="#000"/>
<rect x="2" y="605" width="950" height="1" fill="#000"/>
<rect x="951" y="405" width="1" height="201" fill="#000"/>
<rect x="952" y="4" width="2" height="1" fill="#000"/>
<text x="957.4" y="8" font-size="10" text-rendering="geometricPrecision" fill="#000" stroke="#000" stroke-width="0.2" textLength="32.3" lengthAdjust="spacingAndGlyphs">0.74850</text>
<rect x="952" y="37" width="2" height="1" fill="#000"/>
<text x="957.4" y="41" font-size="10" text-rendering="geometricPrecision" fill="#000" stroke="#000" stroke-width="0.2" textLength="32.3" lengthAdjust="spacingAndGlyphs">0.74400</text>
<rect x="952" y="70" width="2" height="1" fill="#000"/>
<text x="957.4" y="74" font-size="10" text-rendering="geometricPrecision" fill="#000" stroke="#000" stroke-width="0.2" textLength="32.3" lengthAdjust="spacingAndGlyphs">0.73940</text>
<rect x="952" y="103" width="2" height="1" fill="#000"/>
<text x="957.4" y="107" font-size="10" text-rendering="geometricPrecision" fill="#000" stroke="#000" stroke-width="0.2" textLength="32.3" lengthAdjust="spacingAndGlyphs">0.73490</text>
<rect x="952" y="136" width="2" height="1" fill="#000"/>
<text x="957.4" y="140" font-size="10" text-rendering="geometricPrecision" fill="#000" stroke="#000" stroke-width="0.2" textLength="32.3" lengthAdjust="spacingAndGlyphs">0.73040</text>
<rect x="952" y="169" width="2" height="1" fill="#000"/>
<text x="957.4" y="173" font-size="10" text-rendering="geometricPrecision" fill="#000" stroke="#000" stroke-width="0.2" textLength="32.3" lengthAdjust="spacingAndGlyphs">0.72580</text>
<rect x="952" y="202" width="2" height="1" fill="#000"/>
<text x="957.4" y="206" font-size="10" text-rendering="geometricPrecision" fill="#000" stroke="#000" stroke-width="0.2" textLength="32.3" lengthAdjust="spacingAndGlyphs">0.72130</text>
<rect x="952" y="235" width="2" height="1" fill="#000"/>
<text x="957.4" y="239" font-size="10" text-rendering="geometricPrecision" fill="#000" stroke="#000" stroke-width="0.2" textLength="32.3" lengthAdjust="spacingAndGlyphs">0.71670</text>
<rect x="952" y="268" width="2" height="1" fill="#000"/>
<text x="957.4" y="272" font-size="10" text-rendering="geometricPrecision" fill="#000" stroke="#000" stroke-width="0.2" textLength="32.3" lengthAdjust="spacingAndGlyphs">0.71220</text>
<rect x="952" y="301" width="2" height="1" fill="#000"/>
<text x="957.4" y="305" font-size="10" text-rendering="geometricPrecision" fill="#000" stroke="#000" stroke-width="0.2" textLength="32.3" lengthAdjust="spacingAndGlyphs">0.70760</text>
<rect x="952" y="334" width="2" height="1" fill="#000"/>
<text x="957.4" y="338" font-size="10" text-rendering="geometricPrecision" fill="#000" stroke="#000" stroke-width="0.2" textLength="32.3" lengthAdjust="spacingAndGlyphs">0.70310</text>
<rect x="952" y="367" width="2" height="1" fill="#000"/>
<text x="957.4" y="371" font-size="10" text-rendering="geometricPrecision" fill="#000" stroke="#000" stroke-width="0.2" textLength="32.3" lengthAdjust="spacingAndGlyphs">0.69860</text>
<rect x="952" y="400" width="2" height="1" fill="#000"/>
<text x="957.4" y="404" font-size="10" text-rendering="geometricPrecision" fill="#000" stroke="#000" stroke-width="0.2" textLength="32.3" lengthAdjust="spacingAndGlyphs">0.69400</text>
<rect x="953" y="186" width="41" height="11" fill="#000"/>
<text x="957.4" y="195" font-size="10" text-rendering="geometricPrecision" fill="#fff" stroke="#fff" stroke-width="0.2" textLength="32.3" lengthAdjust="spacingAndGlyphs">0.72280</text>
<rect x="952" y="407" width="1" height="1" fill="#000"/>
<text x="955.4" y="416" font-size="10" text-rendering="geometricPrecision" fill="#000" stroke="#000" stroke-width="0.2" textLength="41.5" lengthAdjust="spacingAndGlyphs">0.0075668</text>
<rect x="952" y="529" width="1" height="1" fill="#000"/>
<text x="955.5" y="533" font-size="10" text-rendering="geometricPrecision" fill="#000" stroke="#000" stroke-width="0.2" textLength="17.3" lengthAdjust="spacingAndGlyphs">0.00</text>
<rect x="952" y="604" width="1" height="1" fill="#000"/>
<text x="955.5" y="602" font-size="10" text-rendering="geometricPrecision" fill="#000" stroke="#000" stroke-width="0.2" textLength="41.5" lengthAdjust="spacingAndGlyphs">-0.004618</text>
<path d="M6 9 H13 L9.5 13 Z" fill="#000" shape-rendering="auto"/>
<text x="18.4" y="14" font-size="10" text-rendering="geometricPrecision" fill="#000" stroke="#000" stroke-width="0.2" textLength="55.4" lengthAdjust="spacingAndGlyphs">AUDUSD,H4</text>
<text x="80.5" y="14" font-size="10" text-rendering="geometricPrecision" fill="#000" stroke="#000" stroke-width="0.2" textLength="32.6" lengthAdjust="spacingAndGlyphs">0.72349</text>
<text x="116.53" y="14" font-size="10" text-rendering="geometricPrecision" fill="#000" stroke="#000" stroke-width="0.2" textLength="32.6" lengthAdjust="spacingAndGlyphs">0.72374</text>
<text x="152.56" y="14" font-size="10" text-rendering="geometricPrecision" fill="#000" stroke="#000" stroke-width="0.2" textLength="32.6" lengthAdjust="spacingAndGlyphs">0.72178</text>
<text x="188.59" y="14" font-size="10" text-rendering="geometricPrecision" fill="#000" stroke="#000" stroke-width="0.2" textLength="32.6" lengthAdjust="spacingAndGlyphs">0.72280</text>
<text x="7.5" y="418" font-size="10" text-rendering="geometricPrecision" fill="#000" stroke="#000" stroke-width="0.2" textLength="35.7" lengthAdjust="spacingAndGlyphs">MACD-2</text>
<text x="47.7" y="418" font-size="10" text-rendering="geometricPrecision" fill="#000" stroke="#000" stroke-width="0.2" textLength="46.5" lengthAdjust="spacingAndGlyphs">(50,150,25)</text>
<text x="97.2" y="418" font-size="10" text-rendering="geometricPrecision" fill="#000" stroke="#000" stroke-width="0.2" textLength="42.3" lengthAdjust="spacingAndGlyphs">0.0000000</text>
<text x="142.5" y="418" font-size="10" text-rendering="geometricPrecision" fill="#000" stroke="#000" stroke-width="0.2" textLength="46" lengthAdjust="spacingAndGlyphs">-0.0009269</text>
<text x="192.2" y="418" font-size="10" text-rendering="geometricPrecision" fill="#000" stroke="#000" stroke-width="0.2" textLength="42.3" lengthAdjust="spacingAndGlyphs">0.0042251</text>
<text x="238.3" y="418" font-size="10" text-rendering="geometricPrecision" fill="#000" stroke="#000" stroke-width="0.2" textLength="42.4" lengthAdjust="spacingAndGlyphs">0.0045341</text>
<rect x="3" y="606" width="1" height="3" fill="#000"/>
<text x="2.6" y="618" font-size="10" text-rendering="geometricPrecision" fill="#000" stroke="#000" stroke-width="0.2" textLength="49.8" lengthAdjust="spacingAndGlyphs">22 Oct 2018</text>
<rect x="67" y="606" width="1" height="3" fill="#000"/>
<text x="66.6" y="618" font-size="10" text-rendering="geometricPrecision" fill="#000" stroke="#000" stroke-width="0.2" textLength="54.0" lengthAdjust="spacingAndGlyphs">24 Oct 16:00</text>
<rect x="131" y="606" width="1" height="3" fill="#000"/>
<text x="130.6" y="618" font-size="10" text-rendering="geometricPrecision" fill="#000" stroke="#000" stroke-width="0.2" textLength="54.0" lengthAdjust="spacingAndGlyphs">29 Oct 08:00</text>
<rect x="195" y="606" width="1" height="3" fill="#000"/>
<text x="194.6" y="618" font-size="10" text-rendering="geometricPrecision" fill="#000" stroke="#000" stroke-width="0.2" textLength="51.1" lengthAdjust="spacingAndGlyphs">1 Nov 00:00</text>
<rect x="259" y="606" width="1" height="3" fill="#000"/>
<text x="258.6" y="618" font-size="10" text-rendering="geometricPrecision" fill="#000" stroke="#000" stroke-width="0.2" textLength="51.1" lengthAdjust="spacingAndGlyphs">5 Nov 16:00</text>
<rect x="323" y="606" width="1" height="3" fill="#000"/>
<text x="322.6" y="618" font-size="10" text-rendering="geometricPrecision" fill="#000" stroke="#000" stroke-width="0.2" textLength="51.1" lengthAdjust="spacingAndGlyphs">8 Nov 08:00</text>
<rect x="387" y="606" width="1" height="3" fill="#000"/>
<text x="386.6" y="618" font-size="10" text-rendering="geometricPrecision" fill="#000" stroke="#000" stroke-width="0.2" textLength="56.3" lengthAdjust="spacingAndGlyphs">13 Nov 00:00</text>
<rect x="451" y="606" width="1" height="3" fill="#000"/>
<text x="450.6" y="618" font-size="10" text-rendering="geometricPrecision" fill="#000" stroke="#000" stroke-width="0.2" textLength="56.3" lengthAdjust="spacingAndGlyphs">15 Nov 16:00</text>
<rect x="515" y="606" width="1" height="3" fill="#000"/>
<text x="514.6" y="618" font-size="10" text-rendering="geometricPrecision" fill="#000" stroke="#000" stroke-width="0.2" textLength="56.3" lengthAdjust="spacingAndGlyphs">20 Nov 08:00</text>
<rect x="579" y="606" width="1" height="3" fill="#000"/>
<text x="578.6" y="618" font-size="10" text-rendering="geometricPrecision" fill="#000" stroke="#000" stroke-width="0.2" textLength="56.3" lengthAdjust="spacingAndGlyphs">23 Nov 00:00</text>
<rect x="643" y="606" width="1" height="3" fill="#000"/>
<text x="642.6" y="618" font-size="10" text-rendering="geometricPrecision" fill="#000" stroke="#000" stroke-width="0.2" textLength="56.3" lengthAdjust="spacingAndGlyphs">27 Nov 16:00</text>
<rect x="707" y="606" width="1" height="3" fill="#000"/>
<text x="706.6" y="618" font-size="10" text-rendering="geometricPrecision" fill="#000" stroke="#000" stroke-width="0.2" textLength="56.3" lengthAdjust="spacingAndGlyphs">30 Nov 08:00</text>
<rect x="771" y="606" width="1" height="3" fill="#000"/>
<text x="770.6" y="618" font-size="10" text-rendering="geometricPrecision" fill="#000" stroke="#000" stroke-width="0.2" textLength="49.5" lengthAdjust="spacingAndGlyphs">5 Dec 00:00</text>
</svg></body></html>
